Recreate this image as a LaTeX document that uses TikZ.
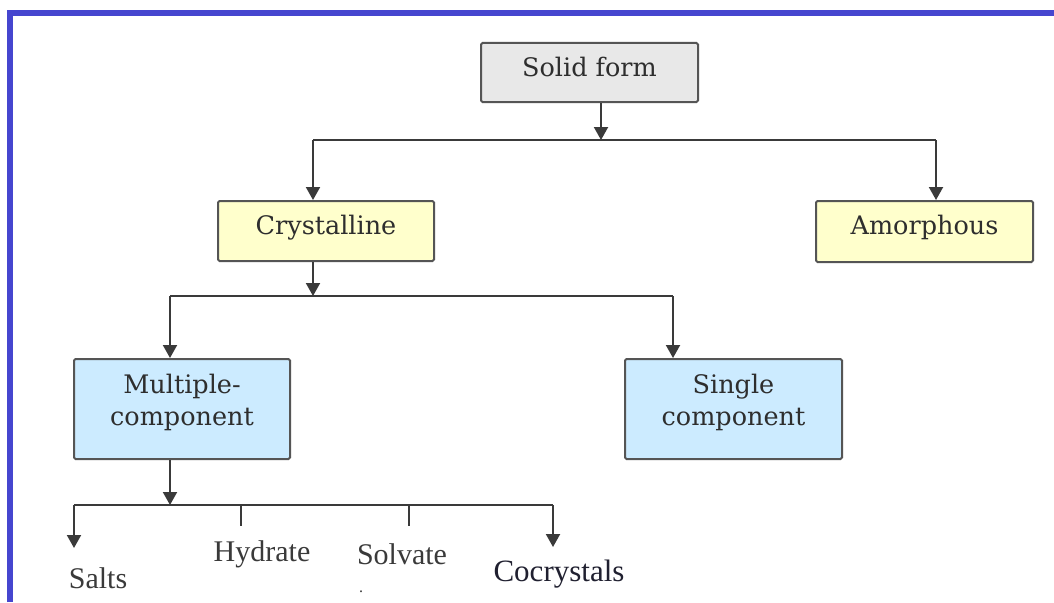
\documentclass[tikz,border=0pt]{standalone}
\usepackage{fontspec}
\setmainfont{DejaVu Serif}
\newfontfamily\timesf{Liberation Serif}
\usetikzlibrary{arrows.meta}
\definecolor{frameblue}{HTML}{4646CF}
\definecolor{boxline}{HTML}{555555}
\definecolor{graybox}{HTML}{E8E8E8}
\definecolor{yellowbox}{HTML}{FFFFCC}
\definecolor{bluebox}{HTML}{CCEBFF}
\definecolor{linecol}{HTML}{3A3A3A}
\definecolor{textcol}{HTML}{2E2E2E}
\definecolor{leafcol}{HTML}{3A3A3A}
\definecolor{cocol}{HTML}{202030}
\begin{document}
\begin{tikzpicture}[x=1pt,y=-1pt,
  box/.style={draw=boxline, line width=2pt, rounded corners=1.5pt, inner sep=0pt,
    anchor=north west, text=textcol, font=\fontsize{25.5}{32}\selectfont, align=center},
  conn/.style={draw=linecol, line width=2pt},
  arr/.style={conn, -{Triangle[width=14pt,length=13pt]}},
  leaf/.style={font=\timesf\fontsize{30}{32}\selectfont, text=leafcol, inner sep=0pt}]
\useasboundingbox (0,0) rectangle (1054,602);
\fill[white] (0,0) rectangle (1054,602);
% frame
\draw[frameblue, line width=6pt] (10,602) -- (10,13) -- (1054,13);
% boxes
\node[box, fill=graybox, minimum width=217pt, minimum height=59pt, text depth=12pt] (solid) at (480,42) {Solid form};
\node[box, fill=yellowbox, minimum width=216pt, minimum height=60pt, text depth=13pt] (cryst) at (217,200) {Crystalline};
\node[box, fill=yellowbox, minimum width=217pt, minimum height=61pt, text depth=13pt] (amor) at (815,200) {Amorphous};
\node[box, fill=bluebox, minimum width=216pt, minimum height=100pt, text depth=18pt] (multi) at (73,358) {Multiple-\\component};
\node[box, fill=bluebox, minimum width=217pt, minimum height=100pt, text depth=18pt] (single) at (624,358) {Single\\component};
% leaves
\node[leaf] (salts) at (98,578) {Salts};
\node[leaf] (hydrate) at (262,554) {Hydrate};
\node[leaf] (solvate) at (402,554) {Solvate};
\node[leaf, font=\timesf\fontsize{31}{32}\selectfont, text=cocol] (cocry) at (559,574) {Cocrystals};
\node[leaf, font=\timesf\fontsize{16}{16}\selectfont] (dot) at (361,592) {.};
% junction coordinates
\coordinate (s1) at (601,140);
\coordinate (c1) at (313,140);
\coordinate (a1) at (936,140);
\coordinate (c2) at (313,296);
\coordinate (m1) at (170,296);
\coordinate (g1) at (673,296);
\coordinate (b0) at (170,505);
\coordinate (bL) at (74,505);
\coordinate (bR) at (553,505);
\coordinate (bH) at (241,505);
\coordinate (bS) at (409,505);
\coordinate (tL) at (74,548);
\coordinate (tR) at (553,547);
\coordinate (eH) at (241,526);
\coordinate (eS) at (409,526);
% connectors
\draw[arr] (solid.south -| s1) -- (s1);
\draw[conn] (c1) -- (a1);
\draw[arr] (c1) -- (c1 |- cryst.north);
\draw[arr] (a1) -- (a1 |- amor.north);
\draw[arr] (cryst.south -| c2) -- (c2);
\draw[conn] (m1) -- (g1);
\draw[arr] (m1) -- (m1 |- multi.north);
\draw[arr] (g1) -- (g1 |- single.north);
\draw[arr] (multi.south -| b0) -- (b0);
\draw[conn] (bL) -- (bR);
\draw[arr] (bL) -- (tL);
\draw[arr] (bR) -- (tR);
\draw[conn] (bH) -- (eH);
\draw[conn] (bS) -- (eS);
\end{tikzpicture}
\end{document}
